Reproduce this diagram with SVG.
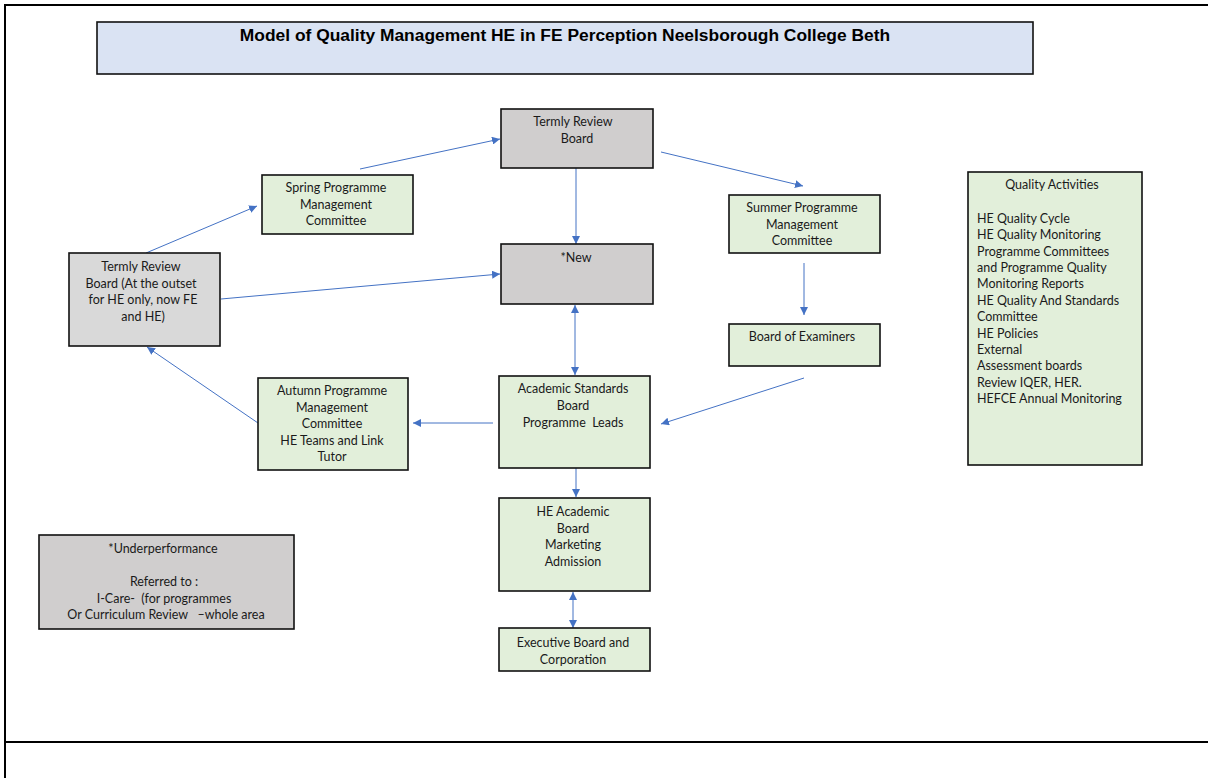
<svg xmlns="http://www.w3.org/2000/svg" width="1208" height="778" viewBox="0 0 1208 778">
  <style>
    .frame { stroke: #000; stroke-width: 2; fill: none; }
    .box { stroke: #111; stroke-width: 1.6; }
    .grey { fill: #D0CECE; }
    .grey2 { fill: #D9D9D9; }
    .green { fill: #E2EFDA; }
    .blue { fill: #DAE3F3; }
    .t { font-family: Lato, "Liberation Sans", sans-serif; font-size: 12.5px; fill: #1a1a1a; text-anchor: middle; }
    .tl { font-family: Lato, "Liberation Sans", sans-serif; font-size: 12.5px; fill: #1a1a1a; }
    .title { font-family: "Liberation Sans", Arial, sans-serif; font-size: 17.4px; font-weight: bold; fill: #000; text-anchor: middle; }
    .link { stroke: #4472C4; stroke-width: 1; fill: none; }
  </style>
  <defs>
    <marker id="ah" markerUnits="userSpaceOnUse" markerWidth="10" markerHeight="8" refX="8" refY="4" orient="auto-start-reverse">
      <path d="M0,0 L8,4 L0,8 Z" fill="#4472C4"/>
    </marker>
  </defs>

  <rect width="1208" height="778" fill="#fff"/>

  <!-- page frame -->
  <g id="frame">
    <line class="frame" x1="5" y1="5" x2="1208" y2="5"/>
    <line class="frame" x1="5" y1="4" x2="5" y2="778"/>
    <line class="frame" x1="5" y1="742" x2="1208" y2="742"/>
  </g>

  <!-- title banner -->
  <g id="title">
    <rect class="box blue" x="97" y="22" width="936" height="52"/>
    <text class="title" x="565" y="41">Model of Quality Management HE in FE Perception Neelsborough College Beth</text>
  </g>

  <!-- connectors -->
  <g id="connectors">
    <line class="link" x1="360" y1="169" x2="500" y2="139" marker-end="url(#ah)"/>
    <line class="link" x1="661" y1="152" x2="803" y2="186" marker-end="url(#ah)"/>
    <line class="link" x1="576" y1="168" x2="576" y2="244" marker-end="url(#ah)"/>
    <line class="link" x1="221" y1="299" x2="500" y2="274" marker-end="url(#ah)"/>
    <line class="link" x1="146" y1="253" x2="257" y2="206" marker-end="url(#ah)"/>
    <line class="link" x1="804" y1="263" x2="804" y2="315" marker-end="url(#ah)"/>
    <line class="link" x1="804" y1="378" x2="661" y2="424" marker-end="url(#ah)"/>
    <line class="link" x1="575" y1="305" x2="575" y2="375" marker-start="url(#ah)" marker-end="url(#ah)"/>
    <line class="link" x1="493" y1="423" x2="413" y2="423" marker-end="url(#ah)"/>
    <line class="link" x1="258" y1="423" x2="147" y2="347" marker-end="url(#ah)"/>
    <line class="link" x1="576" y1="468" x2="576" y2="497" marker-end="url(#ah)"/>
    <line class="link" x1="573" y1="592" x2="573" y2="628" marker-start="url(#ah)" marker-end="url(#ah)"/>
  </g>

  <!-- nodes -->
  <g id="termly-review-board">
    <rect class="box grey" x="501" y="109" width="152" height="59"/>
    <text class="t" x="573" y="126">Termly Review</text>
    <text class="t" x="577" y="143">Board</text>
  </g>

  <g id="new">
    <rect class="box grey" x="501" y="244" width="152" height="60"/>
    <text class="t" x="576" y="262">*New</text>
  </g>

  <g id="spring-committee">
    <rect class="box green" x="262" y="175" width="151" height="59"/>
    <text class="t" x="336" y="192">Spring Programme</text>
    <text class="t" x="336" y="209">Management</text>
    <text class="t" x="336" y="225">Committee</text>
  </g>

  <g id="summer-committee">
    <rect class="box green" x="729" y="195" width="151" height="58"/>
    <text class="t" x="802" y="212">Summer Programme</text>
    <text class="t" x="802" y="229">Management</text>
    <text class="t" x="802" y="245">Committee</text>
  </g>

  <g id="termly-review-board-he">
    <rect class="box grey2" x="69" y="253" width="151" height="93"/>
    <text class="t" x="141" y="271">Termly Review</text>
    <text class="t" x="141" y="288">Board (At the outset</text>
    <text class="t" x="143" y="304">for HE only, now FE</text>
    <text class="t" x="143" y="321">and HE)</text>
  </g>

  <g id="board-of-examiners">
    <rect class="box green" x="729" y="324" width="151" height="42"/>
    <text class="t" x="802" y="341">Board of Examiners</text>
  </g>

  <g id="academic-standards-board">
    <rect class="box green" x="499" y="376" width="151" height="92"/>
    <text class="t" x="573" y="393">Academic Standards</text>
    <text class="t" x="573" y="410">Board</text>
    <text class="t" x="573" y="427" xml:space="preserve">Programme  Leads</text>
  </g>

  <g id="autumn-committee">
    <rect class="box green" x="258" y="378" width="150" height="92"/>
    <text class="t" x="332" y="395">Autumn Programme</text>
    <text class="t" x="332" y="412">Management</text>
    <text class="t" x="332" y="428">Committee</text>
    <text class="t" x="332" y="445">HE Teams and Link</text>
    <text class="t" x="332" y="461">Tutor</text>
  </g>

  <g id="he-academic-board">
    <rect class="box green" x="499" y="498" width="151" height="93"/>
    <text class="t" x="573" y="516">HE Academic</text>
    <text class="t" x="573" y="533">Board</text>
    <text class="t" x="573" y="549">Marketing</text>
    <text class="t" x="573" y="566">Admission</text>
  </g>

  <g id="executive-board">
    <rect class="box green" x="499" y="628" width="151" height="43"/>
    <text class="t" x="573" y="647">Executive Board and</text>
    <text class="t" x="573" y="664">Corporation</text>
  </g>

  <g id="underperformance">
    <rect class="box grey" x="39" y="535" width="255" height="94"/>
    <text class="t" x="163" y="553">*Underperformance</text>
    <text class="t" x="164" y="586">Referred to :</text>
    <text class="t" x="164" y="603" xml:space="preserve">I-Care-  (for programmes</text>
    <text class="t" x="166" y="619" xml:space="preserve">Or Curriculum Review   –whole area</text>
  </g>

  <g id="quality-activities">
    <rect class="box green" x="968" y="172" width="174" height="293"/>
    <text class="t" x="1052" y="189">Quality Activities</text>
    <text class="tl" x="977" y="223">HE Quality Cycle</text>
    <text class="tl" x="977" y="239.4">HE Quality Monitoring</text>
    <text class="tl" x="977" y="255.7">Programme Committees</text>
    <text class="tl" x="977" y="272.1">and Programme Quality</text>
    <text class="tl" x="977" y="288.4">Monitoring Reports</text>
    <text class="tl" x="977" y="304.8">HE Quality And Standards</text>
    <text class="tl" x="977" y="321.2">Committee</text>
    <text class="tl" x="977" y="337.5">HE Policies</text>
    <text class="tl" x="977" y="353.9">External</text>
    <text class="tl" x="977" y="370.2">Assessment boards</text>
    <text class="tl" x="977" y="386.6">Review IQER, HER.</text>
    <text class="tl" x="977" y="403">HEFCE Annual Monitoring</text>
  </g>
</svg>
